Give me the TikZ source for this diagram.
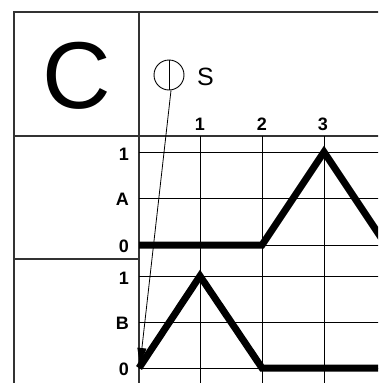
\documentclass[tikz,border=0pt]{standalone}
\usepackage{fontspec}
\setmainfont{Liberation Sans}
\usetikzlibrary{arrows.meta}
\begin{document}
\begin{tikzpicture}[x=1pt,y=-1pt,
  frame/.style={line width=1.1pt,draw=black!80},
  gridline/.style={line width=0.9pt,draw=black},
  wave/.style={line width=7pt,draw=black,line join=miter},
  lab/.style={inner sep=0pt,font=\fontsize{18}{18}\selectfont\bfseries},
  rowlab/.style={lab,anchor=east}]
\useasboundingbox (0,0) rectangle (378,383);
\clip (0,0) rectangle (378,383);
% frame
\draw[frame] (14,383) -- (14,12) -- (390,12);
\draw[frame] (139,12) -- (139,383);
\draw[frame] (14,136) -- (390,136);
\draw[frame] (14,259) -- (139,259);
% grid
\foreach \x in {200,262,324} \draw[gridline] (\x,136) -- (\x,390);
\foreach \y in {152,198,245,276,322,368} \draw[gridline] (139,\y) -- (390,\y);
% header
\node[inner sep=0pt,font=\fontsize{95}{95}\selectfont] (c) at (77,76) {C};
\node[circle,draw,line width=0.9pt,minimum size=30pt,inner sep=0pt] (s) at (169,75) {};
\draw[line width=0.9pt] (s.north) -- (s.south);
\node[inner sep=0pt,font=\fontsize{25}{25}\selectfont,anchor=west] (slab) at (197,77) {S};
\node[lab] (t1) at (200,124) {1};
\node[lab] (t2) at (262,124) {2};
\node[lab] (t3) at (323,124) {3};
% row labels
\node[rowlab] (a1) at (129,154) {1};
\node[rowlab] (aa) at (129,199) {A};
\node[rowlab] (a0) at (129,246) {0};
\node[rowlab] (b1) at (129,278) {1};
\node[rowlab] (bb) at (129,323) {B};
\node[rowlab] (b0) at (129,369) {0};
% waves
\coordinate (origin) at (140,365);
\draw[wave] (139,245) -- (262,245) -- (324,152) -- (386,245);
\draw[wave] (139,368) -- (200,276) -- (262,368) -- (390,368);
% arrow
\draw[line width=0.8pt,-{Triangle[length=17pt,width=9pt]}] ([xshift=2pt]s.south) -- (origin);
\end{tikzpicture}
\end{document}
